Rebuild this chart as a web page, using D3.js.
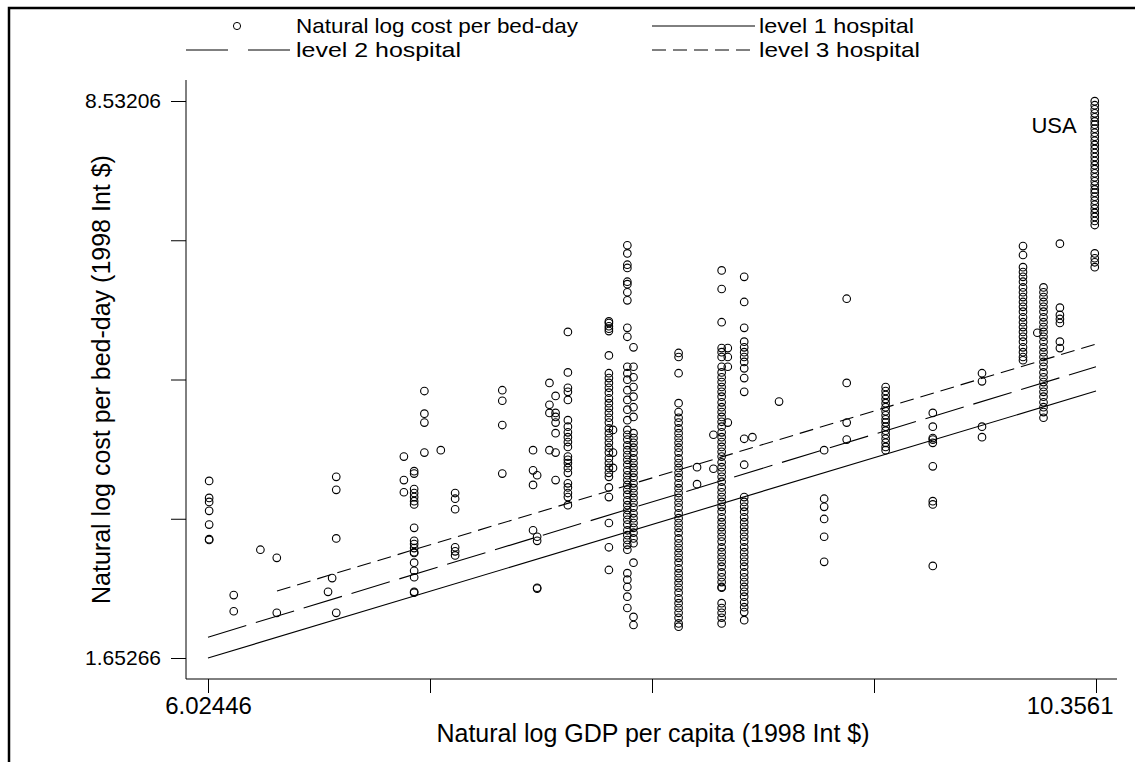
<!DOCTYPE html>
<html>
<head>
<meta charset="UTF-8">
<title>Cost per bed-day vs GDP per capita</title>
<style>
  body { margin: 0; background: #fff; }
  svg { font-family: "Liberation Sans", Arial, sans-serif; }
</style>
</head>
<body>
<svg></svg>
<script src="https://d3js.org/d3.v7.min.js"></script>
<script>
let width = 1135, height = 762;

// x position of each column of observations (log GDP per capita)
const colX = [6.03, 6.15, 6.28, 6.36, 6.61, 6.63, 6.65, 6.98, 7.03, 7.08,
              7.16, 7.23, 7.46, 7.61, 7.63, 7.69, 7.72, 7.78, 7.98, 8.00,
              8.07, 8.10, 8.32, 8.41, 8.49, 8.53, 8.56, 8.64, 8.68, 8.81,
              9.03, 9.14, 9.33, 9.56, 9.80, 10.00, 10.07, 10.10, 10.18, 10.35];

// log cost per bed-day for the observations in each column
const colY = [
  [3.84, 3.63, 3.58, 3.47, 3.30, 3.12, 3.11],
  [2.43, 2.23],
  [2.99],
  [2.89, 2.21],
  [2.47],
  [2.64],
  [3.89, 3.73, 3.13, 2.21],
  [4.14, 3.85, 3.70],
  [3.96, 3.93, 3.74, 3.69, 3.64, 3.59, 3.55, 3.26, 3.10, 3.06, 3.01, 2.96, 2.95, 2.83, 2.73, 2.65, 2.47, 2.46],
  [4.95, 4.67, 4.56, 4.19],
  [4.22],
  [3.69, 3.62, 3.49, 3.02, 2.97, 2.92],
  [4.96, 4.83, 4.53, 3.93],
  [4.22, 3.97, 3.79, 3.23],
  [3.91, 3.15, 3.10, 2.52, 2.51],
  [5.05, 4.78, 4.68, 4.22],
  [4.89, 4.68, 4.63, 4.56, 4.43, 4.19, 3.85],
  [5.68, 5.18, 4.99, 4.94, 4.84, 4.59, 4.51, 4.44, 4.38, 4.32, 4.26, 4.14, 4.10, 4.06, 4.00, 3.94, 3.81, 3.76, 3.69, 3.64, 3.54],
  [5.81, 5.79, 5.75, 5.72, 5.69, 5.39, 5.17, 5.11, 5.05, 4.99, 4.93, 4.86, 4.80, 4.74, 4.68, 4.62, 4.56, 4.49, 4.43, 4.37, 4.31, 4.25, 4.19, 4.12, 4.06, 4.00, 3.94, 3.89, 3.76, 3.64, 3.32, 3.02, 2.74],
  [4.47, 4.19, 4.00],
  [6.75, 6.65, 6.51, 6.47, 6.30, 6.27, 6.17, 6.07, 5.73, 5.62, 5.25, 5.17, 5.09, 4.96, 4.84, 4.72, 4.59, 4.47, 4.41, 4.35, 4.28, 4.22, 4.16, 4.10, 4.04, 3.97, 3.91, 3.85, 3.79, 3.73, 3.67, 3.60, 3.54, 3.48, 3.42, 3.36, 3.30, 3.23, 3.17, 3.11, 3.05, 2.99, 2.70, 2.62, 2.53, 2.41, 2.27],
  [5.49, 5.25, 5.12, 5.00, 4.88, 4.75, 4.63, 4.43, 4.37, 4.31, 4.25, 4.19, 4.12, 4.06, 4.00, 3.94, 3.88, 3.81, 3.75, 3.69, 3.63, 3.57, 3.51, 3.44, 3.38, 3.32, 3.26, 3.20, 3.13, 3.07, 2.83, 2.16, 2.06],
  [5.42, 5.37, 5.17, 4.80, 4.69, 4.62, 4.56, 4.49, 4.43, 4.37, 4.31, 4.25, 4.19, 4.12, 4.06, 4.00, 3.94, 3.88, 3.81, 3.75, 3.69, 3.63, 3.57, 3.51, 3.44, 3.38, 3.32, 3.26, 3.20, 3.13, 3.07, 3.01, 2.95, 2.89, 2.83, 2.76, 2.70, 2.64, 2.58, 2.52, 2.46, 2.39, 2.33, 2.27, 2.21, 2.15, 2.08, 2.04],
  [4.01, 3.80],
  [4.41, 3.99],
  [6.44, 6.21, 5.80, 5.48, 5.43, 5.37, 5.25, 5.18, 5.12, 5.06, 5.00, 4.94, 4.88, 4.81, 4.75, 4.69, 4.63, 4.57, 4.51, 4.44, 4.38, 4.32, 4.26, 4.20, 4.14, 4.07, 4.01, 3.95, 3.89, 3.83, 3.76, 3.70, 3.64, 3.58, 3.52, 3.46, 3.39, 3.33, 3.27, 3.21, 3.15, 3.09, 3.02, 2.96, 2.90, 2.84, 2.78, 2.71, 2.65, 2.59, 2.53, 2.52, 2.33, 2.27, 2.21, 2.15, 2.08],
  [5.48, 5.37, 5.25, 4.56],
  [6.36, 6.05, 5.73, 5.56, 5.49, 5.43, 5.37, 5.31, 5.23, 5.11, 4.94, 4.36, 4.04, 3.64, 3.58, 3.52, 3.46, 3.39, 3.33, 3.27, 3.21, 3.15, 3.09, 3.02, 2.96, 2.90, 2.84, 2.78, 2.71, 2.65, 2.59, 2.53, 2.47, 2.41, 2.34, 2.28, 2.22, 2.12],
  [4.38],
  [4.82],
  [4.22, 3.62, 3.52, 3.37, 3.15, 2.84],
  [6.09, 5.05, 4.56, 4.35],
  [5.00, 4.95, 4.90, 4.85, 4.80, 4.75, 4.70, 4.65, 4.60, 4.56, 4.51, 4.46, 4.41, 4.36, 4.31, 4.26, 4.22],
  [4.68, 4.51, 4.37, 4.35, 4.31, 4.02, 3.59, 3.55, 2.79],
  [5.17, 5.07, 4.51, 4.38],
  [6.74, 6.63, 6.48, 6.42, 6.36, 6.30, 6.23, 6.17, 6.11, 6.05, 5.99, 5.93, 5.86, 5.80, 5.74, 5.68, 5.62, 5.56, 5.49, 5.43, 5.37, 5.33],
  [5.67],
  [6.23, 6.17, 6.11, 6.05, 5.99, 5.93, 5.86, 5.80, 5.74, 5.68, 5.62, 5.56, 5.49, 5.43, 5.37, 5.31, 5.25, 5.18, 5.12, 5.06, 5.00, 4.94, 4.88, 4.81, 4.75, 4.69, 4.62],
  [6.77, 5.98, 5.89, 5.84, 5.79, 5.56, 5.48],
  [8.53, 8.48, 8.43, 8.38, 8.33, 8.28, 8.24, 8.19, 8.14, 8.09, 8.04, 7.99, 7.94, 7.89, 7.84, 7.79, 7.74, 7.69, 7.64, 7.59, 7.54, 7.49, 7.44, 7.40, 7.35, 7.30, 7.25, 7.20, 7.15, 7.10, 7.05, 7.00, 6.65, 6.59, 6.54, 6.48]
];

// fitted lines, [start, end] points
const level1 = [[6.02446, 1.65266], [10.3561, 4.95]];
const level2 = [[6.02446, 1.91], [10.3561, 5.25]];
const level3 = [[6.361, 2.48], [10.3561, 5.53]];

const xTicks = [6.02446, 7.10738, 8.19028, 9.27319, 10.3561];
const yTicks = [1.65266, 3.37251, 5.09236, 6.81221, 8.53206];
const xTickLabels = ["6.02446", "", "", "", "10.3561"];
const yTickLabels = ["1.65266", "", "", "", "8.53206"];

let points = [];
colX.forEach((gx, i) => colY[i].forEach(c => points.push({x: gx, y: c})));

let svg = d3.select("svg")
    .attr("width", width)
    .attr("height", height);

svg.append("rect").attr("width", width).attr("height", height).attr("fill", "#fff");

// outer frame (only left & top visible in the crop)
svg.append("path")
    .attr("d", "M9,762 V8 H1135")
    .attr("fill", "none")
    .attr("stroke", "#000")
    .attr("stroke-width", 2.5);

let plotL = 186, plotR = 1117, plotT = 80, plotB = 679, pad = 21;

let x = d3.scaleLinear()
    .domain([xTicks[0], xTicks[4]])
    .range([plotL + 22, plotR - pad]);

let y = d3.scaleLinear()
    .domain([yTicks[0], yTicks[4]])
    .range([plotB - pad, plotT + pad]);

// axes
let xAxis = svg.append("g")
    .attr("transform", "translate(0," + plotB + ")")
    .call(d3.axisBottom(x).tickValues(xTicks).tickSize(14).tickPadding(4)
        .tickFormat((d, i) => xTickLabels[i]));
xAxis.select(".domain").remove();
xAxis.append("line").attr("x1", plotL).attr("x2", plotR).attr("stroke", "#000");
xAxis.selectAll(".tick text").attr("font-size", 24);
// last label is pulled back inside the graph
xAxis.selectAll(".tick text").filter((d, i) => i === 4)
    .attr("text-anchor", "end").attr("x", 17);

let yAxis = svg.append("g")
    .attr("transform", "translate(" + plotL + ",0)")
    .call(d3.axisLeft(y).tickValues(yTicks).tickSize(15).tickPadding(10)
        .tickFormat((d, i) => yTickLabels[i]));
yAxis.select(".domain").remove();
yAxis.append("line").attr("y1", plotT).attr("y2", plotB).attr("stroke", "#000");
yAxis.selectAll(".tick text").attr("font-size", 21);

svg.selectAll(".tick text")
    .attr("font-family", "Liberation Sans, Arial, sans-serif")
    .attr("fill", "#000");
svg.selectAll(".tick line").attr("stroke", "#000");

// axis titles
svg.append("text")
    .attr("x", 653)
    .attr("y", 742)
    .attr("text-anchor", "middle")
    .attr("font-size", 25)
    .text("Natural log GDP per capita (1998 Int $)");

svg.append("text")
    .attr("transform", "translate(110," + (plotT + plotB) / 2 + ") rotate(-90)")
    .attr("text-anchor", "middle")
    .attr("font-size", 25)
    .text("Natural log cost per bed-day (1998 Int $)");

// scatter
svg.append("g")
    .selectAll("circle")
    .data(points)
    .enter()
    .append("circle")
    .attr("cx", d => x(d.x))
    .attr("cy", d => y(d.y))
    .attr("r", 3.8)
    .attr("fill", "none")
    .attr("stroke", "#000")
    .attr("stroke-width", 1.1);

// fitted lines
let line = d3.line().x(d => x(d[0])).y(d => y(d[1]));
let fits = [
  {pts: level1, dash: null},
  {pts: level2, dash: "40,10"},
  {pts: level3, dash: "14,7"}
];
svg.append("g")
    .selectAll("path")
    .data(fits)
    .enter()
    .append("path")
    .attr("d", d => line(d.pts))
    .attr("fill", "none")
    .attr("stroke", "#000")
    .attr("stroke-width", 1.1)
    .attr("stroke-dasharray", d => d.dash);

// USA label
svg.append("text")
    .attr("x", x(10.35) - 18)
    .attr("y", y(8.14))
    .attr("text-anchor", "end")
    .attr("font-size", 22)
    .text("USA");

// legend
let legend = svg.append("g").attr("font-size", 21);
legend.append("circle").attr("cx", 237).attr("cy", 26).attr("r", 3.6)
    .attr("fill", "none").attr("stroke", "#000");
legend.append("text").attr("x", 296).attr("y", 33).text("Natural log cost per bed-day")
    .attr("textLength", 282).attr("lengthAdjust", "spacingAndGlyphs");
legend.append("line").attr("x1", 652).attr("x2", 755).attr("y1", 26).attr("y2", 26)
    .attr("stroke", "#000");
legend.append("text").attr("x", 759).attr("y", 33).text("level 1 hospital")
    .attr("textLength", 155).attr("lengthAdjust", "spacingAndGlyphs");
legend.append("line").attr("x1", 186).attr("x2", 290).attr("y1", 50).attr("y2", 50)
    .attr("stroke", "#000").attr("stroke-dasharray", "42,20");
legend.append("text").attr("x", 296).attr("y", 57).text("level 2 hospital")
    .attr("textLength", 165).attr("lengthAdjust", "spacingAndGlyphs");
legend.append("line").attr("x1", 652).attr("x2", 755).attr("y1", 50).attr("y2", 50)
    .attr("stroke", "#000").attr("stroke-dasharray", "14,7");
legend.append("text").attr("x", 759).attr("y", 57).text("level 3 hospital")
    .attr("textLength", 161).attr("lengthAdjust", "spacingAndGlyphs");
</script>
</body>
</html>
